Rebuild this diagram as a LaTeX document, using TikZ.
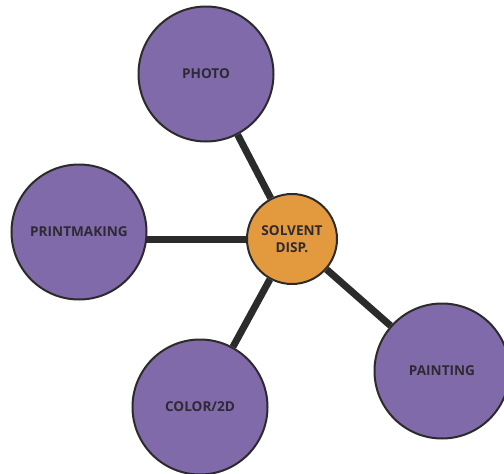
\documentclass[tikz,border=0pt]{standalone}
\usepackage{fontspec}
\setmainfont{Open Sans}
\usepackage{xcolor}
\usetikzlibrary{positioning}
\definecolor{hubfill}{HTML}{E39A3E}
\definecolor{spokefill}{HTML}{806AAA}
\definecolor{edgegray}{HTML}{2B2B2B}
\definecolor{labelgray}{HTML}{2E2A33}

\begin{document}
\begin{tikzpicture}[
    x=1pt, y=-1pt,
    hub/.style={circle, draw=edgegray, line width=2pt, fill=hubfill, minimum size=90pt, inner sep=0pt, align=center, font=\fontsize{13.6}{17}\selectfont\bfseries, text=labelgray},
    spoke/.style={circle, draw=edgegray, line width=2pt, fill=spokefill, minimum size=135pt, inner sep=0pt, align=center, font=\fontsize{13.6}{17}\selectfont\bfseries, text=labelgray},
    link/.style={line width=7pt, color=edgegray}
]
\useasboundingbox (0,0) rectangle (504,474);
\clip (0,0) rectangle (504,474);

\node[hub] (Solvent) at (292,239) {SOLVENT\\DISP.};

\node[spoke] (Photo) at (206,74) {PHOTO};
\node[spoke] (Print) at (79,232) {PRINTMAKING};
\node[spoke] (Color) at (200,407) {COLOR/2D};
\node[spoke] (Paint) at (442,371) {PAINTING};

\coordinate (PrintEnd) at ([xshift=-2pt]Print.east);

\draw[link] (Solvent) -- (Photo);
\draw[link] (Solvent.west) -- (Solvent.west -| PrintEnd);
\draw[link] (Solvent) -- (Color);
\draw[link] (Solvent) -- (Paint);

\end{tikzpicture}
\end{document}
